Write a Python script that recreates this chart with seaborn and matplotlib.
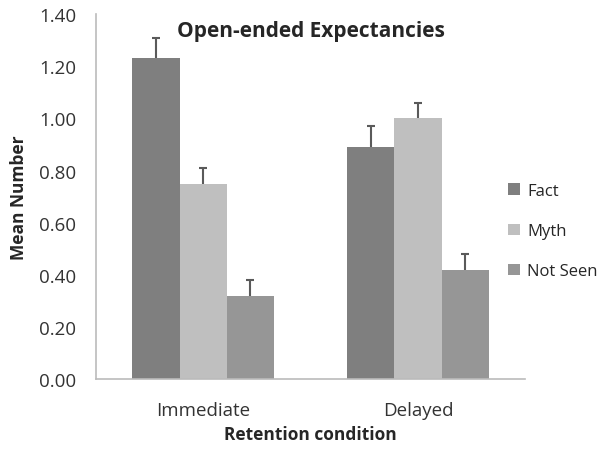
import numpy as np
import pandas as pd
import seaborn as sns
import matplotlib.pyplot as plt

conditions = ["Immediate", "Delayed"]
types = ["Fact", "Myth", "Not Seen"]
fact_means = [1.23, 0.89]
myth_means = [0.75, 1.00]
notseen_means = [0.32, 0.42]
fact_err = [0.08, 0.08]
myth_err = [0.06, 0.06]
notseen_err = [0.06, 0.06]

colors = ["#7f7f7f", "#bfbfbf", "#969696"]

df = pd.DataFrame({
    "condition": conditions * 3,
    "type": [t for t in types for _ in conditions],
    "mean": fact_means + myth_means + notseen_means,
    "err": fact_err + myth_err + notseen_err,
})

sns.set_theme(style="white")
plt.rcParams["font.family"] = ["Open Sans", "DejaVu Sans"]

fig = plt.figure(figsize=(6.15, 4.6), dpi=100)
ax = fig.add_axes([0.156, 0.174, 0.698, 0.793])

sns.barplot(data=df, x="condition", y="mean", hue="type", order=conditions,
            hue_order=types, palette=colors, width=0.66, errorbar=None,
            saturation=1, linewidth=0, ax=ax)

# upward-only error bars on each bar
for cont, t in zip(ax.containers, types):
    sub = df[df["type"] == t].set_index("condition").loc[conditions]
    xs = [b.get_x() + b.get_width() / 2 for b in cont]
    eb = ax.errorbar(xs, sub["mean"], yerr=[np.zeros(len(xs)), sub["err"]],
                     fmt="none", ecolor="#5a5a5a", elinewidth=1.5, capsize=3,
                     capthick=1.5)
    eb[1][0].set_visible(False)

ax.set_ylim(0, 1.4)
ax.set_xlim(-0.5, 1.5)
ax.set_yticks(np.arange(0, 1.41, 0.2))
ax.set_yticklabels([f"{v:.2f}" for v in np.arange(0, 1.41, 0.2)])
ax.tick_params(axis="y", labelsize=13.5, length=0, pad=14, colors="#333333")
ax.tick_params(axis="x", labelsize=13.5, length=0, pad=16, colors="#333333")
for s in ["top", "right"]:
    ax.spines[s].set_visible(False)
for s in ["left", "bottom"]:
    ax.spines[s].set_color("#bbbbbb")
    ax.spines[s].set_linewidth(1.2)

ax.set_xlabel("Retention condition", fontsize=12.5, fontweight="bold", labelpad=4)
ax.set_ylabel("Mean Number", fontsize=12.5, fontweight="bold", labelpad=8)
ax.text(0.5, 0.955, "Open-ended Expectancies", transform=ax.transAxes,
        ha="center", va="center", fontsize=15, fontweight="bold")

ax.legend(loc="center left", bbox_to_anchor=(0.945, 0.405), frameon=False,
          fontsize=12, handlelength=0.7, handleheight=0.7, labelspacing=1.45,
          handletextpad=0.45, prop={"size": 12}, borderaxespad=0)

fig.savefig("out.png", dpi=100)
